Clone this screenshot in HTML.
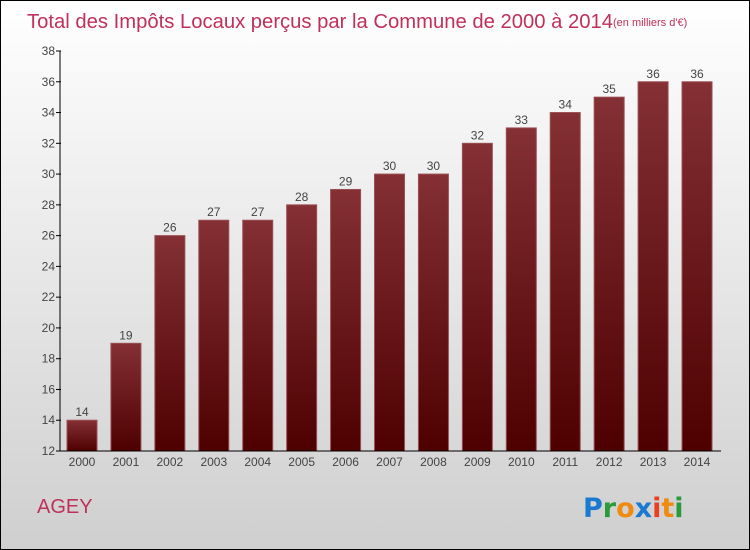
<!DOCTYPE html>
<html><head><meta charset="utf-8"><style>
body{margin:0}
#c{position:relative;width:748px;height:548px;border:1px solid #000;background:linear-gradient(#fff,#cfcfcf);font-family:"Liberation Sans",sans-serif;overflow:hidden}
</style></head><body>
<div id="c">
<svg width="748" height="548" id="svg">
<defs><linearGradient id="bg" x1="0" y1="0" x2="0" y2="1"><stop offset="0" stop-color="#843035"/><stop offset="1" stop-color="#4e0000"/></linearGradient></defs>
<text x="26" y="27" font-size="20" fill="#c0305a"><tspan textLength="586" lengthAdjust="spacingAndGlyphs">Total des Impôts Locaux perçus par la Commune de 2000 à 2014</tspan><tspan font-size="11" dy="-2">(en milliers d'€)</tspan></text>
<text x="36" y="512" font-size="20" fill="#c0305a">AGEY</text>
<g font-size="27" font-family="'DejaVu Sans',sans-serif" font-weight="bold">
<text x="582" y="516"><tspan fill="#1a7ad0">P</tspan><tspan fill="#2a9a3a">r</tspan><tspan fill="#f08a10">o</tspan><tspan fill="#1a7ad0">x</tspan><tspan fill="#e84020">i</tspan><tspan fill="#f08a10">t</tspan><tspan fill="#2a9a3a">i</tspan></text></g>
<g id="plot"></g>
</svg></div>
<script>
const years=["2000","2001","2002","2003","2004","2005","2006","2007","2008","2009","2010","2011","2012","2013","2014"];
const values=[14,19,26,27,27,28,29,30,30,32,33,34,35,36,36];
const ticks=[12,14,16,18,20,22,24,26,28,30,32,34,36,38];
const ns="http://www.w3.org/2000/svg",g=document.getElementById('plot');
const y0=450,yMin=12,yMax=38,yTop=50,x0=59,step=43.93;
const Y=v=>y0-(v-yMin)/(yMax-yMin)*(y0-yTop);
const X=i=>x0+22+i*step;
function mk(t,a){const e=document.createElementNS(ns,t);for(const k in a)e.setAttribute(k,a[k]);g.appendChild(e);return e;}
values.forEach((v,i)=>{
const r=mk('rect',{x:X(i)-15,y:Y(v),width:30,height:y0-Y(v),fill:'url(#bg)',stroke:'#9a5055','stroke-width':1});


const t=mk('text',{x:X(i),y:Y(v)-4,'text-anchor':'middle','font-size':12,fill:'#444'});t.textContent=v;


const l=mk('text',{x:X(i),y:y0+15,'text-anchor':'middle','font-size':12,fill:'#444'});l.textContent=years[i];


});
ticks.forEach(v=>{
mk('line',{x1:x0-4,x2:x0+1,y1:Y(v),y2:Y(v),stroke:'#000'});
const t=mk('text',{x:x0-5,y:Y(v)+4,'text-anchor':'end','font-size':12,fill:'#444'});t.textContent=v;


});
const ya=mk('line',{x1:x0,x2:x0,y1:yTop,y2:y0,stroke:'#000'});


const xa=mk('line',{x1:x0,x2:720,y1:y0,y2:y0,stroke:'#000'});


</script>
</body></html>
